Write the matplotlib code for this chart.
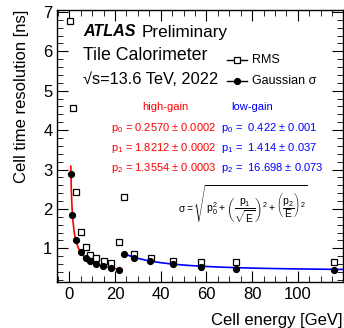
import numpy as np
import matplotlib
matplotlib.use("Agg")
import matplotlib.pyplot as plt
from matplotlib.lines import Line2D
from matplotlib.ticker import MultipleLocator

plt.rcParams['font.family'] = ['Liberation Sans', 'DejaVu Sans']
plt.rcParams['mathtext.fontset'] = 'custom'
plt.rcParams['mathtext.rm'] = 'Liberation Sans'
plt.rcParams['mathtext.it'] = 'Liberation Sans'

# Gaussian sigma points
gaus_E = [0.75, 1.2, 2.8, 4.9, 7.1, 9.0, 11.6, 14.7, 18.1, 21.9,
          24.0, 28.3, 35.4, 45.3, 57.8, 73.0, 116.0]
gaus_s = [2.89, 1.85, 1.21, 0.90, 0.75, 0.67, 0.61, 0.54, 0.49, 0.45,
          0.85, 0.76, 0.68, 0.60, 0.53, 0.47, 0.46]
# RMS points
rms_E = [0.44, 1.5, 2.8, 4.9, 7.1, 9.0, 11.8, 15.0, 18.2, 21.8,
         24.1, 28.3, 35.6, 45.2, 57.8, 73.0, 116.0]
rms_s = [6.76, 4.55, 2.44, 1.42, 1.04, 0.84, 0.75, 0.68, 0.63, 1.15,
         2.30, 0.86, 0.75, 0.67, 0.64, 0.66, 0.64]

hg = (0.2570, 1.8212, 1.3554)
hg_err = ['0.0002', '0.0002', '0.0003']
lg = (0.422, 1.414, 16.698)
lg_err = ['0.001', '0.037', '0.073']
hg_range = (0.65, 22.0)
lg_range = (23.5, 119.6)

def fitf(E, p):
    return np.sqrt(p[0]**2 + p[1]**2 / E + (p[2] / E)**2)

fig = plt.figure(figsize=(3.44, 3.28), dpi=100)
ax = fig.add_axes([0.1666, 0.141, 0.8294, 0.8285])

Eh = np.linspace(*hg_range, 300)
El = np.linspace(*lg_range, 300)
ax.plot(Eh, fitf(Eh, hg), color='red', lw=1.2, zorder=2)
ax.plot(El, fitf(El, lg), color='blue', lw=1.2, zorder=2)

ax.plot(rms_E, rms_s, ls='none', marker='s', ms=4.3, mfc='white', mec='black', mew=0.9, zorder=3)
ax.plot(gaus_E, gaus_s, ls='none', marker='o', ms=4.2, mfc='black', mec='black', zorder=4)

ax.set_xlim(-5.25, 119.6)
ax.set_ylim(0.15, 7.05)
ax.xaxis.set_major_locator(MultipleLocator(20))
ax.xaxis.set_minor_locator(MultipleLocator(5))
ax.yaxis.set_major_locator(MultipleLocator(1))
ax.yaxis.set_minor_locator(MultipleLocator(0.2))
ax.tick_params(which='both', direction='in', top=True, right=True, labelsize=12)
ax.tick_params(which='major', length=8)
ax.tick_params(which='minor', length=4)
for s in ax.spines.values():
    s.set_linewidth(1.0)

ax.set_xlabel('Cell energy [GeV]', fontsize=12, loc='right', labelpad=8)
ax.set_ylabel('Cell time resolution [ns]', fontsize=12, loc='top', labelpad=10)

def px(x, y):
    return x / 344, 1 - y / 328

fig.text(*px(83, 32), 'ATLAS', fontsize=11.6, fontweight='bold', fontstyle='italic', va='center')
fig.text(*px(142, 32), 'Preliminary', fontsize=12.3, va='center')
fig.text(*px(83, 55), 'Tile Calorimeter', fontsize=12.8, va='center')
fig.text(*px(83, 79), '√s=13.6 TeV, 2022', fontsize=11.8, va='center')

fig.text(*px(165, 107), 'high-gain', fontsize=8, color='red', ha='center', va='center')
fig.text(*px(252, 107), 'low-gain', fontsize=8, color='blue', ha='center', va='center')
rows = [128, 148, 168]
for i, y in enumerate(rows):
    fig.text(*px(111, y), r'p$_{%d}$ = %.4f $\pm$ %s' % (i, hg[i], hg_err[i]),
             fontsize=8, color='red', va='center')
    fig.text(*px(221, y), r'p$_{%d}$ =  %.3f $\pm$ %s' % (i, lg[i], lg_err[i]),
             fontsize=8, color='blue', va='center')

fig.text(*px(178, 204), r'$\sigma = \sqrt{p_0^2 + \left(\dfrac{p_1}{\sqrt{E}}\right)^2 + \left(\dfrac{p_2}{E}\right)^2}$',
         fontsize=7.5, va='center')

# legend drawn manually
for yy, mk, fc, lab in [(60, 's', 'white', 'RMS'), (81, 'o', 'black', 'Gaussian σ')]:
    x0, y0 = px(227, yy)
    x1, _ = px(247, yy)
    xm, _ = px(237, yy)
    fig.add_artist(Line2D([x0, x1], [y0, y0], color='black', lw=1, transform=fig.transFigure))
    fig.add_artist(Line2D([xm], [y0], ls='none', marker=mk, ms=4.3, mfc=fc, mec='black',
                          mew=0.9, transform=fig.transFigure))
    fig.text(*px(252, yy), lab, fontsize=9, va='center')

fig.savefig('out.png', dpi=100)
